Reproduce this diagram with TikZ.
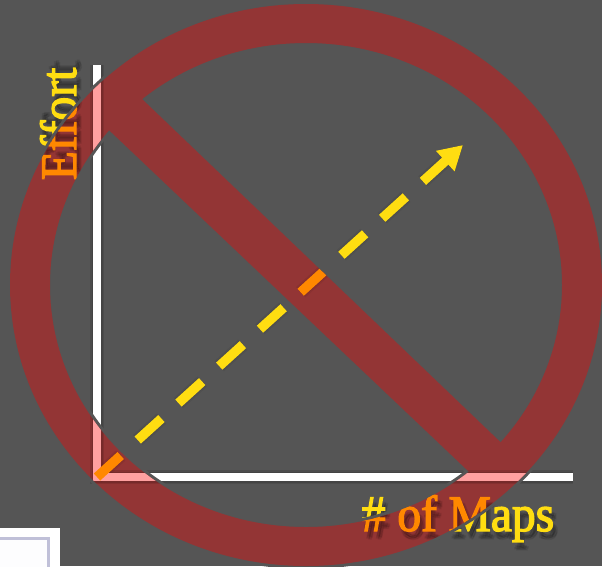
\documentclass[tikz,border=0pt]{standalone}
\usepackage{fontspec}
\newfontfamily\labelfont[FakeBold=2.5,FakeStretch=0.93]{Liberation Serif}
\usepackage{tikz}
\usetikzlibrary{arrows.meta}
\definecolor{slidegray}{RGB}{85,85,85}
\definecolor{bandred}{RGB}{147,53,53}
\definecolor{axispink}{RGB}{255,160,160}
\definecolor{dashyellow}{RGB}{255,221,17}
\definecolor{dashorange}{RGB}{255,136,0}
\definecolor{thumbline}{RGB}{192,192,216}
% ring and bar as one path, nonzero rule
\newcommand{\bandshape}{
  (602,285) arc[start angle=0,end angle=360,x radius=296,y radius=281]
  (562,285) arc[start angle=360,end angle=0,x radius=256,y radius=242]
  (118,76) -- (515,456) -- (485,487) -- (92,114) -- cycle
}
% axes, arrow and labels: #1 axis colour, #2 ink colour, #3 name prefix
\newcommand{\chartparts}[3]{
  \foreach \w in {14,11,8,5}{
    \draw[axisline,black,opacity=.1,shift={(3,6)},line width=\w pt] (ytip) -- (origin) -- (xtip);
    \draw[trend,black,opacity=.06,shift={(4,8)},line width=\w pt] (origin) -- (trendtip);
  }
  \draw[axisline,#1] (ytip) -- (origin) -- (xtip);
  \draw[trend,#2] (origin) -- (trendtip);
  \foreach \dx/\dy in {3/5,5/6,4/8,2/7}{
    \node[axislabel,black,opacity=.07,rotate=90,shift={(\dy pt,-\dx pt)}] at (76,124) {Effort};
    \node[axislabel,black,opacity=.07,shift={(\dx pt,-\dy pt)}] at (458,531) {\# of Maps};
  }
  \node[axislabel,#2,rotate=90] (#3effort) at (76,124) {Effort};
  \node[axislabel,#2] (#3maps) at (458,531) {\# of Maps};
}
\begin{document}
\begin{tikzpicture}[
  x=1pt,y=-1pt,
  axisline/.style={line width=8pt,line join=miter},
  trend/.style={line width=9.5pt,dash pattern=on 32pt off 23pt,-{Triangle[length=24pt,width=26pt]}},
  axislabel/.style={font=\labelfont\fontsize{51}{51}\selectfont,anchor=base,inner sep=0pt},
  thumb/.style={fill=white,minimum width=70pt,minimum height=44pt,inner sep=0pt,anchor=north east},
  thumbinner/.style={draw=thumbline,line width=3pt,fill=white!97!thumbline,minimum width=60pt,minimum height=40pt,inner sep=0pt,anchor=north east}
]
\useasboundingbox (0,0) rectangle (602,566);
\clip (0,0) rectangle (602,566);
\fill[slidegray] (0,0) rectangle (602,566);
\coordinate (origin) at (97,477);
\coordinate (ytip) at (97,65);
\coordinate (xtip) at (573,477);
\coordinate (trendtip) at (463,145);
\node[thumb] (frame) at (60,528) {};
\node[thumbinner] (frameinner) at (50,537) {};
\chartparts{white}{dashyellow}{plain}
\draw[slidegray,line width=6pt] \bandshape;
\fill[bandred] \bandshape;
\begin{scope}
  \clip \bandshape;
  \chartparts{axispink}{dashorange}{band}
\end{scope}
\end{tikzpicture}
\end{document}
